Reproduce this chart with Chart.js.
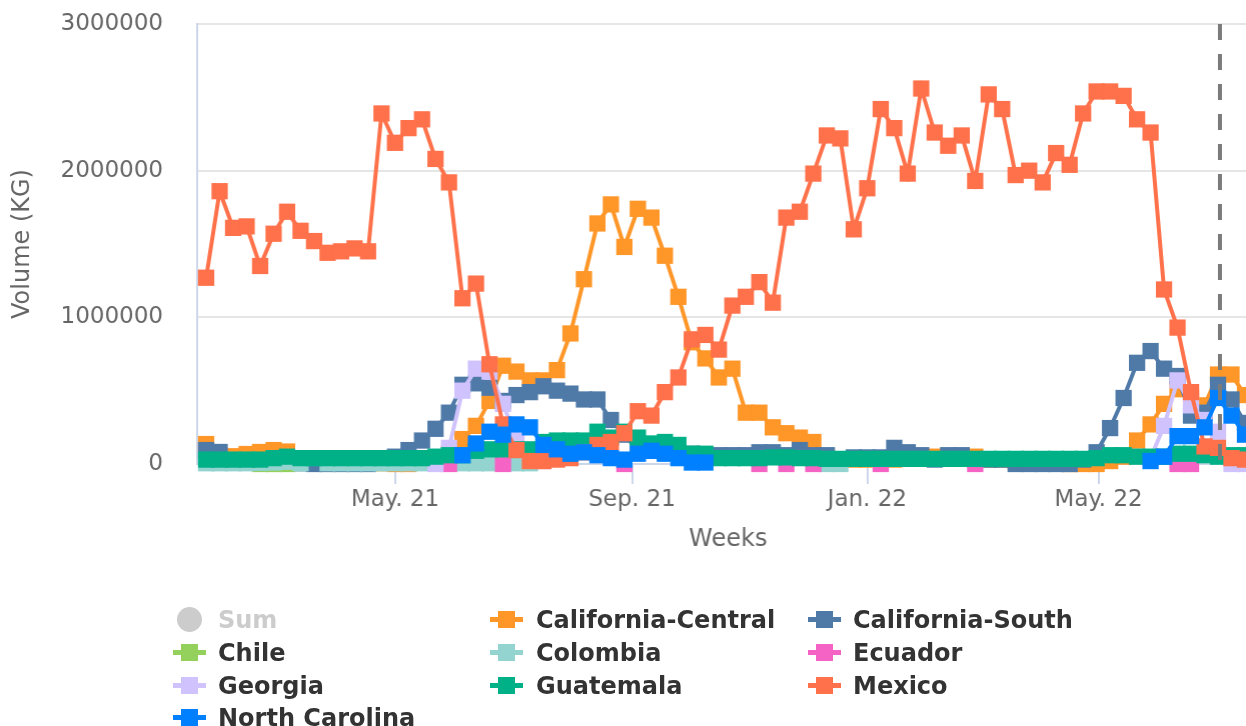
<!DOCTYPE html>
<html>
<head>
<meta charset="utf-8">
<script src="https://cdn.jsdelivr.net/npm/chart.js@4.4.1/dist/chart.umd.min.js"></script>
<style>
html,body{margin:0;padding:0;background:#fff;overflow:hidden;width:1246px;height:726px;}
#wrap{position:absolute;left:0;top:0;width:1258px;height:560px;}
#legend{position:absolute;left:0;top:0;width:1246px;height:726px;font-family:'DejaVu Sans';font-weight:bold;font-size:24px;color:#333333;}
.txt{position:absolute;white-space:nowrap;line-height:30px;height:30px;}
.sym{position:absolute;}
</style>
</head>
<body>
<div id="wrap"><canvas id="c"></canvas></div>
<div id="legend"></div>
<script>
const _ = null;
const startDate = '2021-01-23';
const tickDates = ['2021-05-01', '2021-09-01', '2022-01-01', '2022-05-01'];
const tickLabels = ['May. 21', 'Sep. 21', 'Jan. 22', 'May. 22'];
const markerDate = '2022-07-03';
const yAxisTitle = 'Volume (KG)';
const xAxisTitle = 'Weeks';

const seriesNames = ['California-Central', 'California-South', 'Chile', 'Colombia', 'Ecuador', 'Georgia', 'Guatemala', 'Mexico', 'North Carolina'];
const seriesColors = ['#ff9628', '#4f7aa8', '#93d05c', '#93d3d0', '#f564c4', '#cfc2fd', '#00b187', '#ff714a', '#0080ff'];

const californiaCentral = [136000,60000,53000,68000,82000,95000,85000,30000,20000,15000,
 10000,10000,10000,5000,0,0,10000,30000,70000,170000,
 260000,430000,670000,630000,570000,570000,640000,890000,1260000,1640000,
 1770000,1480000,1740000,1680000,1420000,1140000,830000,720000,590000,650000,
 350000,350000,250000,210000,180000,150000,50000,30000,30000,30000,
 30000,30000,40000,40000,50000,50000,40000,50000,30000,30000,
 20000,10000,10000,10000,0,0,0,20000,50000,160000,
 270000,410000,510000,450000,400000,610000,610000,470000];

const californiaSouth = [95000,82000,20000,10000,10000,10000,10000,5000,0,0,
 0,0,0,10000,50000,95000,160000,240000,350000,540000,
 550000,520000,430000,470000,490000,530000,500000,480000,440000,440000,
 300000,200000,90000,90000,80000,80000,70000,60000,60000,60000,
 60000,80000,80000,60000,95000,60000,60000,30000,45000,45000,
 45000,110000,80000,60000,30000,60000,60000,30000,30000,30000,
 0,0,0,0,0,30000,80000,245000,450000,690000,
 770000,650000,600000,330000,350000,540000,440000,280000];

const chile = [_,_,_,_,0,0,0,_,_,_,
 _,_,_,_,_,_,_,_,_,_,
 _,_,_,_,_,_,_,_,_,_,
 _,_,_,_,_,_,_,_,_,_,
 _,_,_,_,_,_,_,_,_,_,
 _,_,_,_,_,_,_,_,_,_,
 _,_,_,_,_,_,_,_,_,_,
 _,_,_,_,_,_,_,_];

const colombia = [5000,5000,5000,5000,8000,10000,15000,5000,_,5000,
 5000,5000,5000,5000,5000,5000,5000,5000,5000,5000,
 5000,5000,5000,5000,5000,_,_,_,_,_,
 _,_,_,_,_,_,_,_,_,_,
 _,_,_,_,_,_,0,0,_,_,
 _,_,_,_,_,_,_,_,_,_,
 _,_,_,_,_,_,_,_,_,_,
 _,_,_,_,_,_,_,_];

const ecuador = [_,_,_,_,_,_,_,_,_,_,
 _,_,_,_,_,_,_,_,0,_,
 _,_,0,_,_,_,_,_,_,_,
 _,0,_,_,_,_,_,_,_,_,
 _,0,_,0,_,0,_,_,_,_,
 0,_,_,_,_,_,_,0,_,_,
 _,_,_,_,_,_,_,_,_,_,
 _,_,0,0,_,_,_,_];

const georgia = [_,_,_,_,_,_,_,_,_,_,
 _,_,_,_,_,_,_,0,110000,500000,
 650000,630000,410000,170000,80000,20000,_,_,_,_,
 _,_,_,_,_,_,_,_,_,_,
 _,_,_,_,_,_,_,_,_,_,
 _,_,_,_,_,_,_,_,_,_,
 _,_,_,_,_,_,_,_,_,_,
 40000,260000,570000,400000,300000,220000,0,0];

const guatemala = [30000,30000,30000,30000,30000,40000,50000,40000,40000,40000,
 40000,40000,40000,40000,40000,40000,40000,50000,60000,60000,
 90000,100000,100000,100000,100000,150000,160000,160000,160000,220000,
 180000,220000,180000,140000,150000,130000,70000,70000,40000,40000,
 40000,40000,45000,45000,40000,40000,35000,35000,35000,35000,
 35000,35000,35000,35000,35000,35000,35000,35000,35000,35000,
 35000,35000,35000,35000,35000,35000,40000,60000,60000,50000,
 50000,50000,70000,70000,60000,50000,60000,60000];

const mexico = [1270000,1860000,1610000,1620000,1350000,1570000,1720000,1590000,1520000,1440000,
 1450000,1470000,1450000,2390000,2190000,2290000,2350000,2080000,1920000,1130000,
 1230000,680000,270000,95000,20000,20000,30000,40000,80000,130000,
 150000,210000,360000,330000,490000,590000,850000,880000,780000,1080000,
 1140000,1240000,1100000,1680000,1720000,1980000,2240000,2220000,1600000,1880000,
 2420000,2290000,1980000,2560000,2260000,2170000,2240000,1930000,2520000,2420000,
 1970000,2000000,1920000,2120000,2040000,2390000,2540000,2540000,2510000,2350000,
 2260000,1190000,930000,490000,120000,110000,40000,30000];

const northCarolina = [_,_,_,_,_,_,_,_,_,_,
 _,_,_,_,_,_,_,_,_,60000,
 140000,220000,200000,270000,250000,130000,100000,70000,80000,60000,
 40000,30000,70000,90000,70000,40000,10000,10000,_,_,
 _,_,_,_,_,_,_,_,_,_,
 _,_,_,_,_,_,_,_,_,_,
 _,_,_,_,_,_,_,_,_,_,
 20000,50000,190000,190000,250000,450000,330000,200000];

const seriesValues = [californiaCentral, californiaSouth, chile, colombia, ecuador, georgia, guatemala, mexico, northCarolina];

function weeksBetween(a, b) {
  return (Date.parse(b) - Date.parse(a)) / (7 * 86400000);
}

const X_MIN = -0.668, X_MAX = 78.04, AREA_RIGHT = 1258;

const datasets = seriesNames.map((name, k) => ({
  label: name,
  data: seriesValues[k].map((v, i) => ({ x: i, y: v })),
  borderColor: seriesColors[k],
  backgroundColor: seriesColors[k],
  pointBackgroundColor: seriesColors[k],
  borderWidth: 4,
  pointStyle: 'rect',
  pointRadius: 11.5,
  pointBorderWidth: 0,
  tension: 0,
  spanGaps: false,
  clip: false,
  order: seriesNames.length - k
}));

const markerPlugin = {
  id: 'marker',
  afterDatasetsDraw(chart) {
    const ctx = chart.ctx;
    const x = chart.scales.x.getPixelForValue(weeksBetween(startDate, markerDate));
    const { top, bottom } = chart.chartArea;
    ctx.save();
    ctx.strokeStyle = '#7b7b7b';
    ctx.lineWidth = 4;
    ctx.setLineDash([16, 14]);
    ctx.beginPath();
    ctx.moveTo(x, top);
    ctx.lineTo(x, bottom);
    ctx.stroke();
    ctx.restore();
  }
};

const chart = new Chart(document.getElementById('c'), {
  type: 'line',
  data: { datasets },
  plugins: [markerPlugin],
  options: {
    responsive: true,
    maintainAspectRatio: false,
    devicePixelRatio: 1,
    animation: false,
    events: [],
    layout: { padding: { top: 24, left: 0, right: 0, bottom: 0 } },
    plugins: { legend: { display: false }, tooltip: { enabled: false } },
    scales: {
      x: {
        type: 'linear',
        bounds: 'data',
        min: X_MIN,
        max: X_MAX,
        afterFit(scale) { scale.height = 96; scale.paddingLeft = 0; scale.paddingRight = 0; },
        afterBuildTicks(scale) {
          scale.ticks = tickDates.map(d => ({ value: weeksBetween(startDate, d) }));
        },
        ticks: {
          autoSkip: false,
          maxRotation: 0,
          padding: 2,
          color: '#666666',
          font: { family: 'DejaVu Sans', size: 23 },
          callback: (v, i) => tickLabels[i]
        },
        grid: { display: true, drawOnChartArea: false, drawTicks: true, tickLength: 20, color: '#ccd6eb', lineWidth: 2 },
        border: { display: true, color: '#ccd6eb', width: 2 },
        title: {
          display: true, text: xAxisTitle, color: '#666666',
          font: { family: 'DejaVu Sans', size: 24 },
          padding: { top: 0, bottom: 6 }
        }
      },
      y: {
        min: 0,
        max: 3000000,
        afterFit(scale) { scale.width = 197; scale.paddingTop = 0; scale.paddingBottom = 0; },
        ticks: {
          stepSize: 1000000,
          padding: 34,
          color: '#666666',
          font: { family: 'DejaVu Sans', size: 23 },
          callback: v => String(v)
        },
        grid: { color: '#e6e6e6', lineWidth: 2, drawTicks: false },
        border: { display: true, color: '#ccd6eb', width: 2 },
        title: {
          display: true, text: yAxisTitle, color: '#666666',
          font: { family: 'DejaVu Sans', size: 24 },
          padding: { top: 8, bottom: 0 }
        }
      }
    }
  }
});

// widen the canvas so the plot area reaches the intended right edge
const gap = AREA_RIGHT - chart.chartArea.right;
if (Math.abs(gap) > 0.5) {
  document.getElementById('wrap').style.width = (1258 + gap) + 'px';
  chart.resize();
}

// Legend (HTML), three columns
const legendItems = [{ name: 'Sum', color: '#cccccc', circle: true }].concat(
  seriesNames.map((n, k) => ({ name: n, color: seriesColors[k] })));
const colSym = [173, 490, 808];
const colText = [218, 536, 853];
const rowCenter = [619, 652, 685, 717];
const lg = document.getElementById('legend');
legendItems.forEach((it, idx) => {
  const r = Math.floor(idx / 3), c = idx % 3;
  const cy = rowCenter[r];
  if (it.circle) {
    const d = document.createElement('div');
    d.className = 'sym';
    Object.assign(d.style, { left: (colSym[c] + 4) + 'px', top: (cy - 12.5) + 'px', width: '25px', height: '25px', borderRadius: '50%', background: it.color });
    lg.appendChild(d);
  } else {
    const line = document.createElement('div');
    line.className = 'sym';
    Object.assign(line.style, { left: colSym[c] + 'px', top: (cy - 2.5) + 'px', width: '33px', height: '5px', background: it.color });
    lg.appendChild(line);
    const sq = document.createElement('div');
    sq.className = 'sym';
    Object.assign(sq.style, { left: (colSym[c] + 8) + 'px', top: (cy - 8.5) + 'px', width: '17px', height: '17px', background: it.color });
    lg.appendChild(sq);
  }
  const t = document.createElement('div');
  t.className = 'txt';
  t.textContent = it.name;
  Object.assign(t.style, { left: colText[c] + 'px', top: (cy - 14.5) + 'px', color: it.circle ? '#cccccc' : '#333333' });
  lg.appendChild(t);
});
</script>
</body>
</html>
